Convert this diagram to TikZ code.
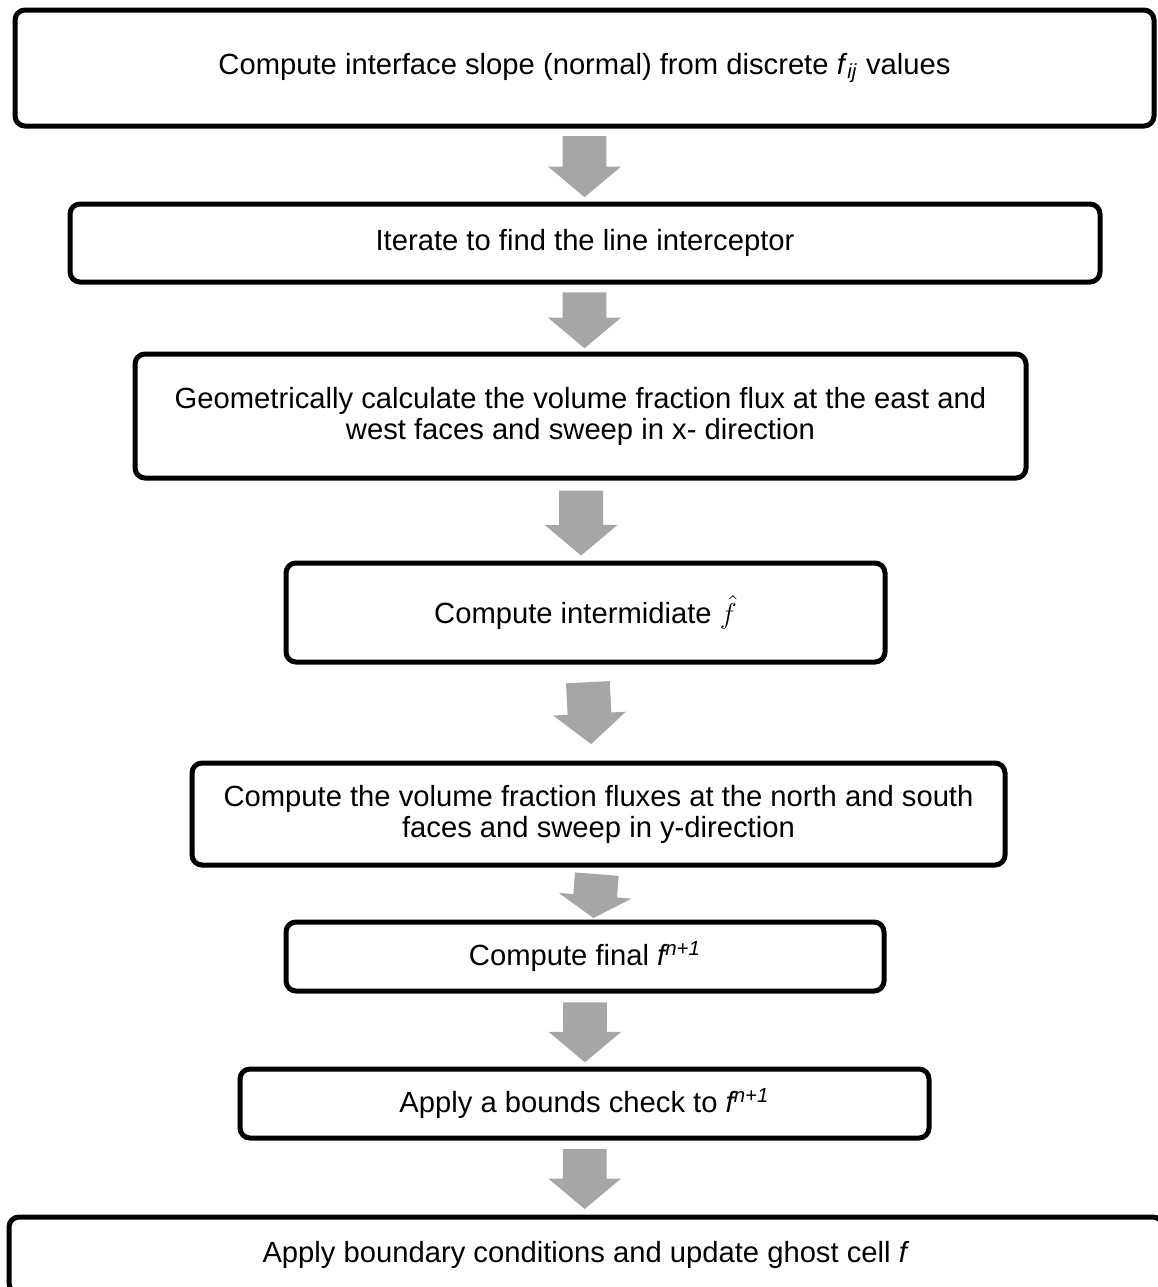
\documentclass[tikz,border=0pt]{standalone}
\usepackage{fontspec}
\setmainfont{Liberation Sans}
\usetikzlibrary{shapes.arrows,calc}
\definecolor{arrowgray}{RGB}{166,166,166}
\begin{document}
\begin{tikzpicture}[x=0.5pt, y=-0.5pt,
  stepbox/.style={draw, line width=2.5pt, rounded corners=5pt, align=center, inner sep=0pt, font=\fontsize{14.6}{15.5}\selectfont},
  flowarrow/.style={single arrow, fill=arrowgray, anchor=tail, inner xsep=0pt, inner ysep=10.75pt, single arrow head extend=7.25pt, single arrow tip angle=100, rotate=-90}]
  \useasboundingbox (0,0) rectangle (1158,1287);
  \node[stepbox, minimum width=569.5pt, minimum height=58pt] (b1) at (584.5,68) {Compute interface slope (normal) from discrete \textit{f}\textsubscript{\textit{ij}} values};
  \node[stepbox, minimum width=515pt, minimum height=39pt] (b2) at (585,243) {Iterate to find the line interceptor};
  \node[stepbox, minimum width=445.5pt, minimum height=62pt] (b3) at (580.5,416) {Geometrically calculate the volume fraction flux at the east and\\west faces and sweep in x- direction};
  \node[stepbox, minimum width=299.5pt, minimum height=49.5pt] (b4) at (585.5,612.5) {Compute intermidiate $\hat{f}$};
  \node[stepbox, minimum width=406.5pt, minimum height=51pt] (b5) at (598.5,814) {Compute the volume fraction fluxes at the north and south\\faces and sweep in y-direction};
  \node[stepbox, minimum width=299pt, minimum height=34.5pt] (b6) at (585,956.5) {Compute final \textit{f\textsuperscript{n+1}}};
  \node[stepbox, minimum width=344.5pt, minimum height=34.5pt] (b7) at (584.5,1103.5) {Apply a bounds check to \textit{f\textsuperscript{n+1}}};
  \node[stepbox, minimum width=577pt, minimum height=38pt] (b8) at (586,1255) {Apply boundary conditions and update ghost cell \textit{f}};
  \node[flowarrow, minimum height=30.5pt] (a1) at ($(b1.south)!0.1!(b2.north)$) {};
  \node[flowarrow, minimum height=28pt] (a2) at ($(b2.south)!0.11!(b3.north)$) {};
  \node[flowarrow, minimum height=32.5pt] (a3) at ($(b3.south)!0.12!(b4.north)$) {};
  \node[flowarrow, minimum height=31pt, rotate=3] (a4) at ($(b4.south)!0.18!(b5.north)$) {};
  \node[flowarrow, minimum height=22pt, rotate=-4.5, single arrow tip angle=117] (a5) at ($(b5.south)!0.12!(b6.north)$) {};
  \node[flowarrow, minimum height=30pt] (a6) at ($(b6.south)!0.115!(b7.north)$) {};
  \node[flowarrow, minimum height=30pt] (a7) at ($(b7.south)!0.11!(b8.north)$) {};
\end{tikzpicture}
\end{document}
